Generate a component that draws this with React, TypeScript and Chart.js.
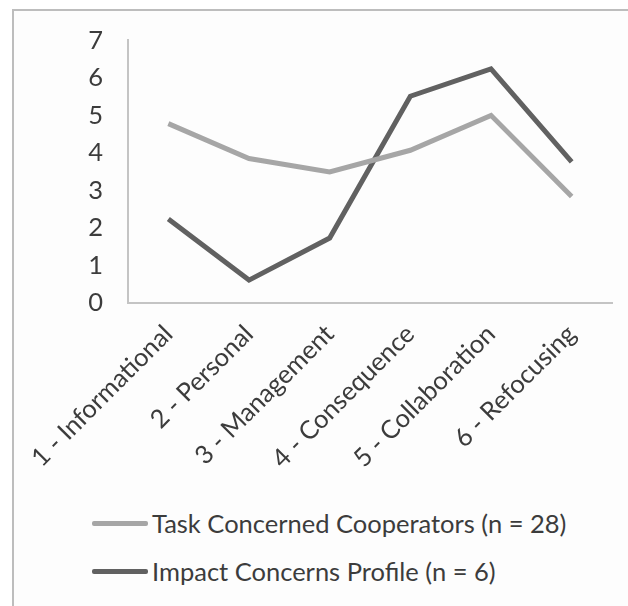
import React, { useEffect, useRef } from "react";
import { Chart, registerables } from "chart.js";

Chart.register(...registerables);

const categories = [
  "1 - Informational",
  "2 - Personal",
  "3 - Management",
  "4 - Consequence",
  "5 - Collaboration",
  "6 - Refocusing",
];
const taskLabel = "Task Concerned Cooperators (n = 28)";
const impactLabel = "Impact Concerns Profile (n = 6)";
const taskValues = [4.78, 3.85, 3.49, 4.07, 5.0, 2.84];
const impactValues = [2.24, 0.61, 1.73, 5.51, 6.24, 3.76];
const yTicks = [0, 1, 2, 3, 4, 5, 6, 7];

const LIGHT = "#a6a6a6";
const DARK = "#616161";
const TEXT = "#3c3c3c";
const FONT = "Lato, 'Open Sans', sans-serif";

export default function App() {
  const ref = useRef<HTMLCanvasElement | null>(null);

  useEffect(() => {
    if (!ref.current) return;
    const chart = new Chart(ref.current, {
      type: "line",
      data: {
        labels: categories,
        datasets: [
          {
            label: taskLabel,
            data: taskValues,
            borderColor: LIGHT,
            backgroundColor: LIGHT,
            borderWidth: 5,
            pointRadius: 0,
            tension: 0,
          },
          {
            label: impactLabel,
            data: impactValues,
            borderColor: DARK,
            backgroundColor: DARK,
            borderWidth: 5,
            pointRadius: 0,
            tension: 0,
          },
        ],
      },
      options: {
        responsive: false,
        animation: false,
        layout: { padding: { top: 40, right: 16, left: 0, bottom: 0 } },
        plugins: { legend: { display: false }, tooltip: { enabled: false } },
        scales: {
          x: {
            offset: true,
            grid: { display: false, drawTicks: false },
            border: { display: true, color: "#c4c4c4", width: 2 },
            ticks: {
              minRotation: 45,
              maxRotation: 45,
              padding: 16,
              color: TEXT,
              font: { family: FONT, size: 25.5 },
            },
            afterFit: (s: any) => {
              s.height = 480 - 303;
            },
          },
          y: {
            min: 0,
            max: 7,
            afterBuildTicks: (s: any) => {
              s.ticks = yTicks.map((v) => ({ value: v }));
            },
            grid: { display: false, drawTicks: false },
            border: { display: true, color: "#c4c4c4", width: 2 },
            ticks: {
              padding: 25,
              color: TEXT,
              font: { family: FONT, size: 25.5 },
            },
            afterFit: (s: any) => {
              s.width = 128;
            },
          },
        },
      },
    });
    return () => chart.destroy();
  }, []);

  const legendItems = [
    { label: taskLabel, color: LIGHT, y: 523 },
    { label: impactLabel, color: DARK, y: 571 },
  ];

  return (
    <div
      style={{
        position: "absolute",
        left: 0,
        top: 0,
        width: 628,
        height: 606,
        overflow: "hidden",
        background: "#ffffff",
      }}
    >
      <div
        style={{
          position: "absolute",
          left: 12,
          top: 9,
          width: 640,
          height: 640,
          borderLeft: "2px solid #bdbdbd",
          borderTop: "2px solid #bdbdbd",
          background: "#fdfdfd",
        }}
      />
      <canvas
        ref={ref}
        width={628}
        height={480}
        style={{ position: "absolute", left: 0, top: 0, width: 628, height: 480 }}
      />
      {legendItems.map((it) => (
        <React.Fragment key={it.label}>
          <div
            style={{
              position: "absolute",
              left: 92,
              top: it.y - 2.5,
              width: 56,
              height: 5,
              borderRadius: 2,
              background: it.color,
            }}
          />
          <div
            style={{
              position: "absolute",
              left: 152,
              top: it.y - 17,
              height: 34,
              lineHeight: "34px",
              fontFamily: FONT,
              fontSize: 25.5,
              color: TEXT,
              whiteSpace: "nowrap",
            }}
          >
            {it.label}
          </div>
        </React.Fragment>
      ))}
    </div>
  );
}
